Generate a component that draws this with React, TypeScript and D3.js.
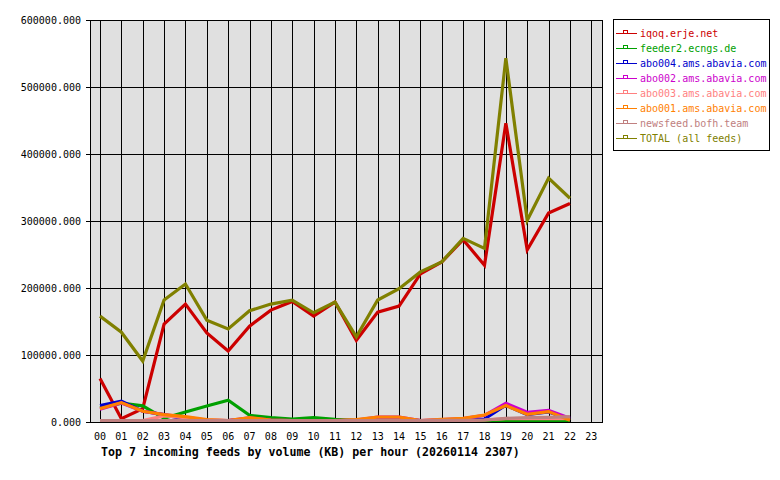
import React from "react";
import * as d3 from "d3";

const hours = ["00","01","02","03","04","05","06","07","08","09","10","11","12","13","14","15","16","17","18","19","20","21","22","23"];
const yTicks = [0, 100000, 200000, 300000, 400000, 500000, 600000];

const iqoq = [65000, 5000, 20000, 146000, 176000, 133000, 106000, 143000, 167000, 180000, 158000, 179000, 122000, 164000, 173000, 221000, 239000, 272000, 234000, 446000, 257000, 312000, 326000];
const feeder2 = [21000, 28000, 24000, 5500, 15000, 24000, 32500, 10000, 6500, 4500, 6500, 4000, 2500, 2500, 2500, 2000, 2000, 2000, 2000, 1500, 1500, 1500, 1500];
const abo004 = [24500, 31000, 16000, 11000, 4000, 2000, 2000, 5000, 2500, 2000, 2000, 2000, 2000, 4000, 5000, 2000, 2000, 3000, 4500, 25000, 11000, 15000, 4000];
const abo002 = [19000, 28500, 16000, 11000, 7000, 3000, 2000, 6000, 3000, 2000, 2000, 2000, 3000, 7500, 7500, 2000, 3500, 5000, 10000, 28000, 14500, 17500, 5500];
const abo003 = [2000, 2000, 2000, 9000, 6500, 3000, 2000, 3000, 2000, 2000, 2000, 2000, 2000, 3000, 3000, 2000, 2000, 2000, 3000, 5000, 5000, 5000, 5000];
const abo001 = [20000, 29000, 16000, 11000, 8000, 3500, 2000, 6500, 3000, 2000, 2000, 2000, 3500, 7500, 7500, 2000, 4000, 5500, 10500, 24500, 11500, 15500, 2500];
const newsfeed = [2000, 2000, 2000, 2000, 2000, 2000, 2000, 2000, 2000, 2000, 2000, 2000, 2000, 2000, 2000, 2000, 2500, 2500, 3000, 5500, 6500, 7000, 8000];
const total = [158000, 134000, 91000, 182000, 206000, 152000, 139000, 166000, 176000, 182000, 163000, 179000, 127000, 182000, 199000, 224000, 239000, 274000, 259000, 543000, 301000, 364000, 334000];

const seriesNames = ["iqoq.erje.net", "feeder2.ecngs.de", "abo004.ams.abavia.com", "abo002.ams.abavia.com", "abo003.ams.abavia.com", "abo001.ams.abavia.com", "newsfeed.bofh.team", "TOTAL (all feeds)"];
const seriesValues = [iqoq, feeder2, abo004, abo002, abo003, abo001, newsfeed, total];
const seriesColors = ["#cc0000", "#00a000", "#0000cc", "#cc00cc", "#ff8080", "#ff8000", "#c08080", "#808000"];

const title = "Top 7 incoming feeds by volume (KB) per hour (20260114 2307)";

export default function App() {
  const W = 780, H = 480;
  const L = 90, R = 602, T = 20, B = 422;
  const x = d3.scaleLinear().domain([0, 23]).range([100, 591.3]);
  const y = d3.scaleLinear().domain([0, 600000]).range([B, T]);
  const fmt = d3.format(".3f");
  const line = d3.line<number>().x((_, i) => x(i)).y(d => y(d));
  const mono = "'DejaVu Sans Mono', monospace";

  return (
    <svg width={W} height={H} style={{ position: "absolute", left: 0, top: 0, background: "#fff" }}>
      <rect x={0} y={0} width={W} height={H} fill="#fff" />
      <rect x={L} y={T} width={R - L} height={B - T} fill="#e0e0e0" />
      {hours.map((h, i) => (
        <line key={"vg" + h} x1={Math.round(x(i)) + 0.5} x2={Math.round(x(i)) + 0.5} y1={T} y2={B} stroke="#000" strokeWidth={1} shapeRendering="crispEdges" />
      ))}
      {yTicks.map(t => (
        <g key={"yt" + t}>
          <line x1={L - 4} x2={R} y1={Math.round(y(t)) + 0.5} y2={Math.round(y(t)) + 0.5} stroke="#000" strokeWidth={1} shapeRendering="crispEdges" />
          <text x={81} y={y(t) + 3.5} textAnchor="end" fontFamily={mono} fontSize={10} fill="#000">{fmt(t)}</text>
        </g>
      ))}
      <rect x={L + 0.5} y={T + 0.5} width={R - L} height={B - T} fill="none" stroke="#000" strokeWidth={1} shapeRendering="crispEdges" />
      {hours.map((h, i) => (
        <text key={"xl" + h} x={x(i)} y={440} textAnchor="middle" fontFamily={mono} fontSize={10} fill="#000">{h}</text>
      ))}
      <defs>
        <clipPath id="plotclip">
          <rect x={L} y={T - 5} width={R - L} height={B - T + 5} />
        </clipPath>
      </defs>
      <g clipPath="url(#plotclip)">
        {seriesValues.map((vals, k) => (
          <path key={"s" + k} d={line(vals) || ""} fill="none" stroke={seriesColors[k]} strokeWidth={3.2} strokeLinejoin="miter" />
        ))}
      </g>
      <line x1={L} x2={R} y1={B + 0.5} y2={B + 0.5} stroke="#000" strokeWidth={1} shapeRendering="crispEdges" />
      <text x={101} y={456} fontFamily={mono} fontSize={11.6} fontWeight="bold" fill="#000">{title}</text>
      <rect x={613.5} y={19.5} width={156} height={131} fill="#fff" stroke="#000" strokeWidth={1} shapeRendering="crispEdges" />
      {seriesNames.map((n, k) => {
        const ly = 33 + k * 15;
        return (
          <g key={"lg" + k}>
            <line x1={616} x2={637} y1={ly + 0.5} y2={ly + 0.5} stroke={seriesColors[k]} strokeWidth={1} shapeRendering="crispEdges" />
            <rect x={623.5} y={ly - 2.5} width={4} height={3} fill="none" stroke={seriesColors[k]} strokeWidth={1} shapeRendering="crispEdges" />
            <text x={640} y={ly + 3.5} fontFamily={mono} fontSize={10} fill={seriesColors[k]}>{n}</text>
          </g>
        );
      })}
    </svg>
  );
}
